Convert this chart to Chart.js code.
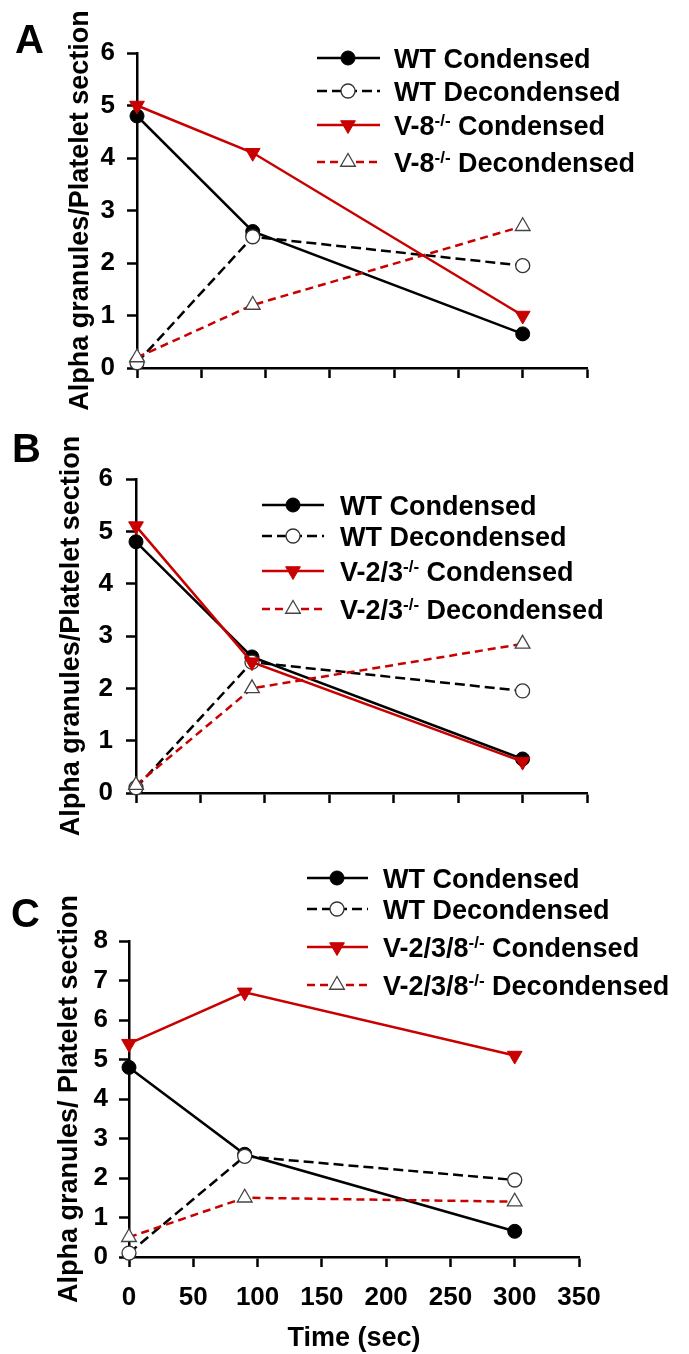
<!DOCTYPE html>
<html>
<head>
<meta charset="utf-8">
<script src="https://cdn.jsdelivr.net/npm/chart.js@4.4.1/dist/chart.umd.min.js"></script>
<style>
  body { margin: 0; background: #fff; width: 689px; height: 1354px; position: relative; overflow: hidden; }
  canvas { position: absolute; left: 0; }
</style>
</head>
<body>
<canvas id="panelA" width="689" height="420" style="top:0px"></canvas>
<canvas id="panelB" width="689" height="440" style="top:420px"></canvas>
<canvas id="panelC" width="689" height="494" style="top:860px"></canvas>
<script>
// time points (sec)
const timeSec = [0, 90, 300];
const xTicks = [0, 50, 100, 150, 200, 250, 300, 350];

// panel A
const namesA = ['WT Condensed', 'WT Decondensed', 'V-8|-/-| Condensed', 'V-8|-/-| Decondensed'];
const wtCondA = [4.8, 2.6, 0.65];
const wtDeconA = [0.1, 2.5, 1.95];
const v8Cond = [5.0, 4.1, 1.0];
const v8Decon = [0.2, 1.2, 2.7];

// panel B
const namesB = ['WT Condensed', 'WT Decondensed', 'V-2/3|-/-| Condensed', 'V-2/3|-/-| Decondensed'];
const wtCondB = [4.8, 2.6, 0.65];
const wtDeconB = [0.1, 2.5, 1.95];
const v23Cond = [5.1, 2.5, 0.6];
const v23Decon = [0.15, 2.0, 2.85];

// panel C
const namesC = ['WT Condensed', 'WT Decondensed', 'V-2/3/8|-/-| Condensed', 'V-2/3/8|-/-| Decondensed'];
const wtCondC = [4.8, 2.6, 0.65];
const wtDeconC = [0.1, 2.55, 1.95];
const v238Cond = [5.4, 6.7, 5.1];
const v238Decon = [0.5, 1.5, 1.4];

const FONT = "'Liberation Sans', Arial, sans-serif";
const RED = '#c80000';

const STYLES = [
  { borderColor: '#000', borderDash: [], pointStyle: 'circle', pointRadius: 7, pointRotation: 0,
    pointBackgroundColor: '#000', pointBorderColor: '#000', pointBorderWidth: 1, order: 4 },
  { borderColor: '#000', borderDash: [10, 5], pointStyle: 'circle', pointRadius: 7, pointRotation: 0,
    pointBackgroundColor: '#fff', pointBorderColor: '#333', pointBorderWidth: 1.3, order: 3 },
  { borderColor: RED, borderDash: [], pointStyle: 'triangle', pointRadius: 8.5, pointRotation: 180,
    pointBackgroundColor: RED, pointBorderColor: RED, pointBorderWidth: 1, order: 2 },
  { borderColor: RED, borderDash: [8, 5], pointStyle: 'triangle', pointRadius: 8.5, pointRotation: 0,
    pointBackgroundColor: '#fff', pointBorderColor: '#444', pointBorderWidth: 1.3, order: 1 },
];

// legend drawn with line + marker, plus the panel letter
const lineLegend = {
  id: 'lineLegend',
  afterDatasetsDraw(chart, args, opts) {
    const ctx = chart.ctx;
    ctx.save();
    chart.data.datasets.forEach((ds, i) => {
      const y = opts.rows[i];
      ctx.beginPath();
      ctx.setLineDash(ds.borderDash);
      ctx.lineWidth = ds.borderWidth;
      ctx.strokeStyle = ds.borderColor;
      ctx.moveTo(opts.x0, y);
      ctx.lineTo(opts.x1, y);
      ctx.stroke();
      ctx.setLineDash([]);
      ctx.fillStyle = ds.pointBackgroundColor;
      ctx.strokeStyle = ds.pointBorderColor;
      ctx.lineWidth = ds.pointBorderWidth;
      Chart.helpers.drawPoint(ctx, {
        pointStyle: ds.pointStyle, rotation: ds.pointRotation,
        radius: ds.pointRadius, borderWidth: ds.pointBorderWidth
      }, opts.xm, y);

      let x = opts.tx;
      ctx.fillStyle = '#000';
      ctx.textAlign = 'left';
      ctx.textBaseline = 'alphabetic';
      ds.legendText.split('|').forEach((part, k) => {
        const sup = k % 2 === 1;
        ctx.font = `bold ${sup ? 17 : 27}px ${FONT}`;
        ctx.fillText(part, x, y + 9.5 - (sup ? 9 : 0));
        x += ctx.measureText(part).width;
      });
    });
    ctx.font = `bold 40px ${FONT}`;
    ctx.fillStyle = '#000';
    ctx.fillText(opts.letter, opts.lx, opts.ly);
    ctx.restore();
  }
};

function buildDatasets(names, seriesList) {
  return seriesList.map((vals, i) => Object.assign({
    label: names[i].replace(/\|/g, ''),
    legendText: names[i],
    data: timeSec.map((t, j) => ({ x: t, y: vals[j] })),
    borderWidth: 2.5,
    fill: false,
    tension: 0,
    clip: false,
  }, STYLES[i]));
}

function axisCommon() {
  return {
    grid: { drawOnChartArea: false, drawTicks: true, tickLength: 10, tickWidth: 2.5, color: '#000' },
    border: { display: true, width: 2.5, color: '#000' },
  };
}

function makeChart(id, names, seriesList, g) {
  const ctx = document.getElementById(id).getContext('2d');
  return new Chart(ctx, {
    type: 'line',
    data: { datasets: buildDatasets(names, seriesList) },
    options: {
      responsive: false,
      animation: false,
      layout: { padding: { left: 0, top: g.top, right: g.right, bottom: 0 } },
      plugins: {
        legend: { display: false },
        tooltip: { enabled: false },
        lineLegend: g.legend,
      },
      scales: {
        x: Object.assign(axisCommon(), {
          type: 'linear', min: 0, max: 350,
          afterBuildTicks(s) { s.ticks = xTicks.map(v => ({ value: v })); },
          ticks: { display: g.showX, padding: 15, color: '#000', font: { family: FONT, size: 26, weight: 'bold' } },
          title: { display: g.showX, text: 'Time (sec)', color: '#000',
                   font: { family: FONT, size: 27, weight: 'bold', lineHeight: 1 }, padding: { top: 0, bottom: 2 } },
          afterFit(s) { s.height = g.xh; },
        }),
        y: Object.assign(axisCommon(), {
          min: 0, max: g.yMax,
          ticks: { stepSize: 1, padding: g.tickPad, color: '#000', font: { family: FONT, size: 26, weight: 'bold' } },
          title: { display: true, text: g.yTitle, color: '#000',
                   font: { family: FONT, size: 27, weight: 'bold', lineHeight: 1 }, padding: { top: g.titlePad, bottom: 0 } },
          afterFit(s) { s.width = g.yw; },
        }),
      },
    },
    plugins: [lineLegend],
  });
}

makeChart('panelA', namesA, [wtCondA, wtDeconA, v8Cond, v8Decon], {
  top: 53, right: 102, xh: 52, yw: 137, yMax: 6, showX: false, tickPad: 12, titlePad: 67.5,
  yTitle: 'Alpha granules/Platelet section',
  legend: { x0: 317, x1: 380, xm: 348, tx: 394, rows: [58, 91, 125, 162], letter: 'A', lx: 15, ly: 53 },
});

makeChart('panelB', namesB, [wtCondB, wtDeconB, v23Cond, v23Decon], {
  top: 59, right: 102, xh: 67, yw: 136, yMax: 6, showX: false, tickPad: 13, titlePad: 58.5,
  yTitle: 'Alpha granules/Platelet section',
  legend: { x0: 262, x1: 324, xm: 293, tx: 340, rows: [85, 116, 151, 189], letter: 'B', lx: 12, ly: 42 },
});

makeChart('panelC', namesC, [wtCondC, wtDeconC, v238Cond, v238Decon], {
  top: 81, right: 110, xh: 97, yw: 129, yMax: 8, showX: true, tickPad: 11, titlePad: 56.5,
  yTitle: 'Alpha granules/ Platelet section',
  legend: { x0: 307, x1: 368, xm: 337, tx: 383, rows: [18, 49, 87, 125], letter: 'C', lx: 11, ly: 67 },
});
</script>
</body>
</html>
